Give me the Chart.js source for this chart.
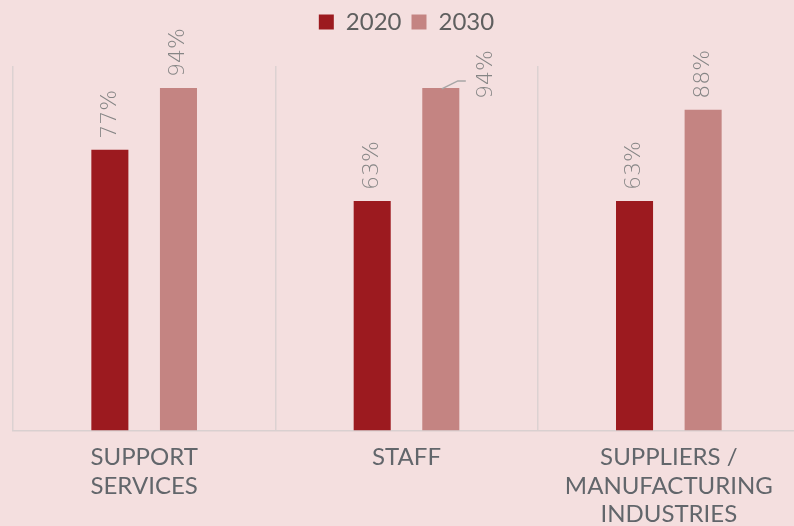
<!DOCTYPE html>
<html>
<head>
<meta charset="utf-8">
<script src="https://cdn.jsdelivr.net/npm/chart.js@4"></script>
<style>
  html, body { margin: 0; padding: 0; background: #f4dfdf; overflow: hidden; }
  #wrap { width: 800px; height: 541px; }
</style>
</head>
<body>
<div id="wrap"><canvas id="chart"></canvas></div>
<script>
const categories = [['SUPPORT', 'SERVICES'], 'STAFF', ['SUPPLIERS /', 'MANUFACTURING', 'INDUSTRIES']];
const seriesNames = ['2020', '2030'];
const values2020 = [77, 63, 63];
const values2030 = [94, 94, 88];

// valeurs en % au-dessus des barres, texte tourné
const valueLabels = {
    id: 'valueLabels',
    afterDatasetsDraw(chart) {
        const ctx = chart.ctx;
        ctx.save();
        ctx.font = '200 22px "DejaVu Sans", sans-serif';
        ctx.fillStyle = '#858585';
        ctx.textBaseline = 'middle';
        ctx.textAlign = 'left';
        chart.data.datasets.forEach((ds, di) => {
            chart.getDatasetMeta(di).data.forEach((bar, i) => {
                let x = bar.x, y = bar.y - 11;
                // étiquette déplacée (STAFF 2030) avec trait de rappel
                if (di === 1 && i === 1) {
                    ctx.strokeStyle = '#a6a6a6';
                    ctx.lineWidth = 1.5;
                    ctx.beginPath();
                    ctx.moveTo(x + 1, bar.y + 1);
                    ctx.lineTo(x + 17, bar.y - 7);
                    ctx.lineTo(x + 25, bar.y - 7);
                    ctx.stroke();
                    x += 45;
                    y = bar.y + 11;
                }
                ctx.save();
                ctx.translate(x, y);
                ctx.rotate(-Math.PI / 2);
                ctx.fillText(ds.data[i] + '%', 0, 0);
                ctx.restore();
            });
        });
        ctx.restore();
    }
};

// espace entre la légende et la zone du graphique
const legendMargin = {
    id: 'legendMargin',
    beforeInit(chart) {
        const fit = chart.legend.fit;
        chart.legend.fit = function () {
            fit.bind(chart.legend)();
            this.height += 22;
        };
    }
};

new Chart(document.getElementById('chart'), {
    type: 'bar',
    data: {
        labels: categories,
        datasets: [
            { label: seriesNames[0], data: values2020, backgroundColor: '#9c1a1f', barPercentage: 0.54, categoryPercentage: 0.523 },
            { label: seriesNames[1], data: values2030, backgroundColor: '#c48482', barPercentage: 0.54, categoryPercentage: 0.523 }
        ]
    },
    options: {
        maintainAspectRatio: false,
        animation: false,
        layout: { padding: { left: 13, right: 0, top: 0, bottom: 0 } },
        scales: {
            y: { display: false, min: 0, max: 100 },
            x: {
                grid: { color: '#dcd2d2', lineWidth: 1.5, drawTicks: false, offset: true },
                border: { color: '#d9d0d0', width: 1.5 },
                ticks: { color: '#62666b', font: { family: 'Lato', size: 24 }, padding: 12, maxRotation: 0 }
            }
        },
        plugins: {
            legend: {
                position: 'top',
                labels: {
                    color: '#5f5f5f',
                    font: { family: 'Lato', size: 24 },
                    boxWidth: 15, boxHeight: 15, padding: 10
                }
            },
            tooltip: { enabled: false }
        }
    },
    plugins: [valueLabels, legendMargin]
});
</script>
</body>
</html>
